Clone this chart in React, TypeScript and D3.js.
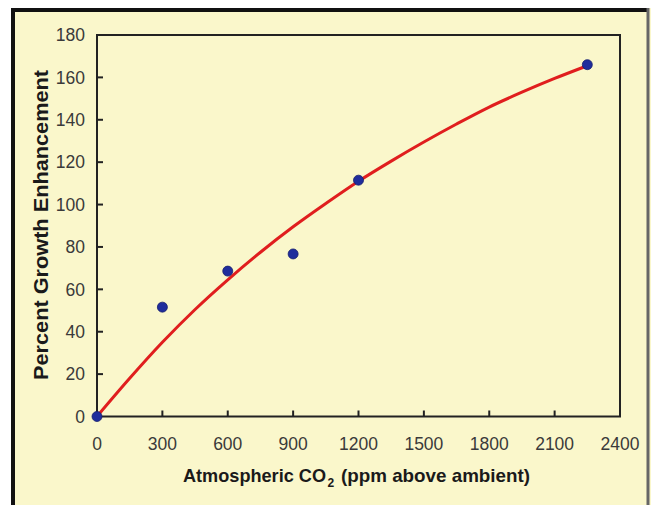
import React from "react";
import * as d3 from "d3";

const obsX = [0, 300, 600, 900, 1200, 2250];
const obsY = [0, 51.6, 68.6, 76.7, 111.5, 166];

const fitX = [0, 150, 300, 450, 600, 750, 900, 1050, 1200, 1350, 1500, 1650, 1800, 1950, 2100, 2250];
const fitY = [0, 18, 35, 50.5, 64.5, 77.5, 89.5, 100.5, 111, 120.5, 129.5, 138, 146, 153, 159.5, 165.5];

const xTicks = [0, 300, 600, 900, 1200, 1500, 1800, 2100, 2400];
const yTicks = [0, 20, 40, 60, 80, 100, 120, 140, 160, 180];

const W = 651;
const H = 505;

export default function App() {
  const x = d3.scaleLinear().domain([0, 2400]).range([97, 620]);
  const y = d3.scaleLinear().domain([0, 180]).range([416.5, 35]);

  const line = d3
    .line<number>()
    .x((_, i) => x(fitX[i]))
    .y((d) => y(d))
    .curve(d3.curveCatmullRom);

  const font = "'Liberation Sans', Arial, sans-serif";

  return (
    <svg
      width={W}
      height={H}
      style={{ position: "absolute", left: 0, top: 0 }}
      fontFamily={font}
    >
      <rect x={0} y={0} width={W} height={H} fill="#ffffff" />
      <rect x={11} y={8} width={640} height={H - 8} fill="#faf7cb" />
      {/* outer border */}
      <line x1={13} y1={8} x2={13} y2={H} stroke="#111" strokeWidth={4} />
      <line x1={11} y1={10} x2={649} y2={10} stroke="#111" strokeWidth={4} />
      <line x1={648} y1={8} x2={648} y2={H} stroke="#666" strokeWidth={3} />

      {/* plot frame */}
      <rect
        x={x(0)}
        y={y(180)}
        width={x(2400) - x(0)}
        height={y(0) - y(180)}
        fill="#faf7cb"
        stroke="#222"
        strokeWidth={2}
      />

      {/* ticks */}
      {yTicks
        .filter((t) => t > 0 && t < 180)
        .map((t) => (
          <line key={"yt" + t} x1={x(0)} x2={x(0) + 6} y1={y(t)} y2={y(t)} stroke="#222" strokeWidth={2} />
        ))}
      {xTicks
        .filter((t) => t > 0 && t < 2400)
        .map((t) => (
          <line key={"xt" + t} x1={x(t)} x2={x(t)} y1={y(0)} y2={y(0) - 6} stroke="#222" strokeWidth={2} />
        ))}

      {/* tick labels */}
      {yTicks.map((t) => (
        <text
          key={"yl" + t}
          x={85}
          y={y(t)}
          dy="0.36em"
          textAnchor="end"
          fontSize={17.5}
          fill="#3a3a3a"
        >
          {t}
        </text>
      ))}
      {xTicks.map((t) => (
        <text
          key={"xl" + t}
          x={x(t)}
          y={450}
          textAnchor="middle"
          fontSize={17.5}
          fill="#3a3a3a"
        >
          {t}
        </text>
      ))}

      {/* axis titles */}
      <text x={183} y={482} fontSize={19} fontWeight="bold" fill="#1a1a1a" textLength={143} lengthAdjust="spacingAndGlyphs">
        Atmospheric CO
      </text>
      <text x={327.5} y={487} fontSize={12} fontWeight="bold" fill="#1a1a1a">
        2
      </text>
      <text x={341} y={482} fontSize={19} fontWeight="bold" fill="#1a1a1a" textLength={189} lengthAdjust="spacingAndGlyphs">
        (ppm above ambient)
      </text>
      <text
        transform={`translate(48,225) rotate(-90)`}
        textAnchor="middle"
        fontSize={19.5}
        fontWeight="bold"
        fill="#1a1a1a"
        textLength={310}
        lengthAdjust="spacingAndGlyphs"
      >
        Percent Growth Enhancement
      </text>

      {/* fitted curve */}
      <path d={line(fitY) || ""} fill="none" stroke="#e01e1e" strokeWidth={3} strokeLinecap="round" />

      {/* observations */}
      {obsX.map((v, i) => (
        <circle key={"p" + i} cx={x(v)} cy={y(obsY[i])} r={5} fill="#1f2d9c" stroke="#16206e" strokeWidth={0.8} />
      ))}
    </svg>
  );
}
